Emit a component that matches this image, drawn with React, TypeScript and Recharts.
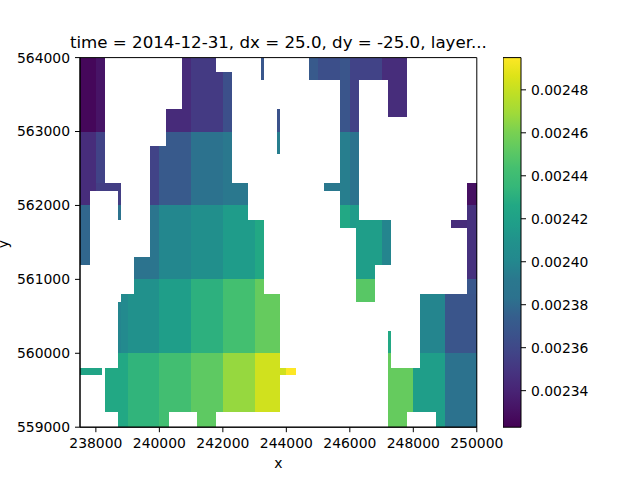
import { ComposedChart, ReferenceArea, ReferenceLine, XAxis, YAxis } from "recharts";

const FONT = "'DejaVu Sans', sans-serif";
const TITLE = "time = 2014-12-31, dx = 25.0, dy = -25.0, layer...";

const xTicks = [238000, 240000, 242000, 244000, 246000, 248000, 250000];
const yTicks = [559000, 560000, 561000, 562000, 563000, 564000];
const colorTicks = [0.00234, 0.00236, 0.00238, 0.0024, 0.00242, 0.00244, 0.00246, 0.00248];

const XMIN = 237500;
const XMAX = 250000;
const YMIN = 559000;
const YMAX = 564000;
const VMIN = 0.002323;
const VMAX = 0.002495;

// viridis, evenly spaced stops
const viridis = [
  "#440154", "#471365", "#482475", "#463480", "#414487", "#3b528b", "#355f8d", "#2c728e", "#2a788e",
  "#23888e", "#21918c", "#1f9e89", "#22a884", "#35b779", "#44bf70", "#5ec962", "#7ad151", "#a0da39",
  "#bddf26", "#dde318", "#fde725",
];

// each cell: x0, x1, y0, y1, value
type CellRow = [number, number, number, number, number];

const band563: CellRow[] = [
  [237500, 238000, 563000, 564000, 0.002326],
  [238000, 238300, 563000, 564000, 0.002332],
  [240200, 240700, 563000, 563300, 0.002344],
  [240700, 241000, 563000, 564000, 0.002344],
  [241000, 241800, 563000, 564000, 0.002352],
  [241800, 242000, 563000, 563800, 0.002352],
  [242000, 242300, 563000, 563800, 0.002364],
  [243200, 243300, 563700, 564000, 0.002369],
  [243700, 243800, 563000, 563300, 0.002366],
  [244700, 245000, 563700, 564000, 0.002371],
  [245000, 245700, 563700, 564000, 0.002364],
  [245700, 246000, 563000, 564000, 0.002368],
  [246000, 246300, 563000, 563700, 0.002356],
  [246000, 247000, 563700, 564000, 0.002357],
  [247000, 247200, 563700, 564000, 0.002345],
  [247200, 247800, 563200, 564000, 0.002345],
];

const band562: CellRow[] = [
  [237500, 237800, 562000, 563000, 0.002345],
  [237800, 238000, 562200, 563000, 0.002345],
  [238000, 238300, 562300, 563000, 0.002357],
  [238000, 238800, 562200, 562300, 0.002354],
  [238700, 238800, 562000, 562200, 0.002354],
  [239700, 240000, 562000, 562800, 0.002357],
  [240000, 240200, 562000, 562800, 0.002371],
  [240200, 241000, 562000, 563000, 0.002371],
  [241000, 242000, 562000, 563000, 0.002383],
  [242000, 242300, 562000, 563000, 0.002392],
  [242300, 242800, 562000, 562300, 0.002392],
  [243700, 243800, 562700, 563000, 0.002395],
  [245200, 245700, 562200, 562300, 0.002392],
  [245700, 246000, 562000, 563000, 0.002395],
  [246000, 246300, 562000, 563000, 0.002383],
  [249700, 250000, 562000, 562300, 0.00233],
];

const band561: CellRow[] = [
  [237500, 237800, 561200, 562000, 0.002378],
  [238700, 238800, 561800, 562000, 0.002385],
  [239200, 239700, 561000, 561300, 0.002385],
  [239700, 240000, 561000, 562000, 0.002387],
  [240000, 241000, 561000, 562000, 0.0024],
  [241000, 242000, 561000, 562000, 0.002407],
  [242000, 242800, 561800, 562000, 0.002416],
  [242000, 243000, 561000, 561800, 0.002416],
  [243000, 243300, 561000, 561800, 0.002426],
  [245700, 246000, 561700, 562000, 0.002426],
  [246000, 246300, 561800, 562000, 0.002416],
  [246000, 246200, 561700, 561800, 0.002416],
  [246200, 247000, 561200, 561800, 0.002418],
  [246200, 246800, 561000, 561200, 0.002418],
  [247000, 247300, 561200, 561800, 0.002399],
  [249200, 249700, 561700, 561800, 0.002345],
  [249700, 250000, 561000, 562000, 0.002347],
];

const band560: CellRow[] = [
  [238700, 238800, 560000, 560700, 0.002399],
  [238800, 239000, 560000, 560800, 0.002402],
  [239000, 239200, 560000, 560800, 0.002409],
  [239200, 240000, 560000, 561000, 0.002409],
  [240000, 241000, 560000, 561000, 0.002418],
  [241000, 242000, 560000, 561000, 0.002431],
  [242000, 243000, 560000, 561000, 0.002443],
  [243000, 243300, 560000, 561000, 0.002454],
  [243300, 243800, 560000, 560800, 0.002454],
  [246200, 246800, 560700, 561000, 0.00245],
  [247200, 247300, 560000, 560300, 0.002426],
  [248200, 249000, 560000, 560800, 0.002399],
  [249000, 250000, 560000, 560800, 0.002368],
  [249700, 250000, 560800, 561000, 0.002369],
];

const band559: CellRow[] = [
  [237500, 238200, 559700, 559800, 0.002423],
  [238300, 238700, 559200, 559800, 0.002426],
  [238700, 239000, 559000, 560000, 0.002426],
  [239000, 240000, 559000, 560000, 0.002433],
  [240000, 240300, 559000, 559200, 0.002442],
  [240000, 241000, 559200, 560000, 0.002442],
  [241000, 242000, 559200, 560000, 0.002452],
  [241200, 241800, 559000, 559200, 0.002452],
  [242000, 243000, 559200, 560000, 0.002467],
  [243000, 243800, 559200, 560000, 0.002483],
  [243800, 244000, 559700, 559800, 0.002483],
  [244000, 244300, 559700, 559800, 0.002495],
  [247200, 247300, 559800, 560000, 0.002454],
  [247200, 247800, 559000, 559800, 0.002454],
  [247800, 248000, 559200, 559800, 0.002454],
  [248000, 249000, 559200, 559800, 0.002418],
  [248200, 249000, 559800, 560000, 0.002418],
  [248700, 249000, 559000, 559200, 0.002418],
  [249000, 250000, 559000, 560000, 0.002383],
];

const cells = [...band563, ...band562, ...band561, ...band560, ...band559];

const hexToRgb = (hex: string) => [1, 3, 5].map((i) => parseInt(hex.slice(i, i + 2), 16));

const colorFor = (value: number) => {
  const t = Math.min(1, Math.max(0, (value - VMIN) / (VMAX - VMIN))) * (viridis.length - 1);
  const i = Math.min(viridis.length - 2, Math.floor(t));
  const a = hexToRgb(viridis[i]);
  const b = hexToRgb(viridis[i + 1]);
  const mix = a.map((c, k) => Math.round(c + (b[k] - c) * (t - i)));
  return `rgb(${mix.join(",")})`;
};

const tickStyle = { fontFamily: FONT, fontSize: 13.9, fill: "#000" };
const labelStyle = { fontFamily: FONT, fontSize: 13.9, fill: "#000" };
const tickLine = { stroke: "#000", strokeWidth: 1 };

const App = () => {
  return (
    <div style={{ position: "absolute", left: 0, top: 0, width: 640, height: 480, background: "#fff" }}>
      <div style={{ position: "absolute", left: 0, top: 0 }}>
        <ComposedChart
          width={640}
          height={480}
          margin={{ top: 57.6, right: 163.2, bottom: 0, left: 0 }}
        >
          <XAxis
            type="number"
            dataKey="x"
            domain={[XMIN, XMAX]}
            ticks={xTicks}
            height={52.8}
            allowDataOverflow
            axisLine={{ stroke: "#000", strokeWidth: 1 }}
            tickLine={tickLine}
            tickSize={5}
            tickMargin={6}
            tick={tickStyle}
            interval={0}
            label={{ value: "x", position: "insideBottom", offset: 12, style: labelStyle }}
          />
          <YAxis
            type="number"
            dataKey="y"
            domain={[YMIN, YMAX]}
            ticks={yTicks}
            width={80}
            allowDataOverflow
            axisLine={{ stroke: "#000", strokeWidth: 1 }}
            tickLine={tickLine}
            tickSize={5}
            tickMargin={5}
            tick={tickStyle}
            interval={0}
          />
          {cells.map(([x0, x1, y0, y1, value], i) => (
            <ReferenceArea
              key={`cell-${i}`}
              x1={x0}
              x2={x1}
              y1={y0}
              y2={y1}
              fill={colorFor(value)}
              fillOpacity={1}
              stroke="none"
              shapeRendering="crispEdges"
            />
          ))}
          <ReferenceLine x={XMIN} stroke="#000" strokeWidth={1} />
          <ReferenceLine x={XMAX} stroke="#000" strokeWidth={1} />
          <ReferenceLine y={YMIN} stroke="#000" strokeWidth={1} />
          <ReferenceLine y={YMAX} stroke="#000" strokeWidth={1} />
          <text x={278.4} y={48} textAnchor="middle" fontFamily={FONT} fontSize={16.67} fill="#000">
            {TITLE}
          </text>
          <text
            x={8}
            y={244}
            textAnchor="middle"
            transform="rotate(-90 8 244)"
            fontFamily={FONT}
            fontSize={13.9}
            fill="#000"
          >
            y
          </text>
        </ComposedChart>
      </div>
      <div style={{ position: "absolute", left: 502.6, top: 0 }}>
        <ComposedChart width={137} height={480} margin={{ top: 57.6, right: 0, bottom: 52.8, left: 0 }}>
          <defs>
            <linearGradient id="viridisBar" x1="0" y1="1" x2="0" y2="0">
              {viridis.map((c, i) => (
                <stop key={c} offset={i / (viridis.length - 1)} stopColor={c} />
              ))}
            </linearGradient>
          </defs>
          <XAxis type="number" dataKey="x" domain={[0, 1]} allowDataOverflow hide />
          <YAxis
            type="number"
            dataKey="v"
            orientation="right"
            domain={[VMIN, VMAX]}
            ticks={colorTicks}
            width={119}
            allowDataOverflow
            axisLine={false}
            tickLine={tickLine}
            tickSize={5}
            tickMargin={5}
            tick={tickStyle}
            interval={0}
            tickFormatter={(v: number) => v.toFixed(5)}
          />
          <ReferenceArea
            x1={0}
            x2={1}
            y1={VMIN}
            y2={VMAX}
            fill="url(#viridisBar)"
            fillOpacity={1}
            stroke="#000"
            strokeWidth={1}
          />
        </ComposedChart>
      </div>
    </div>
  );
};

export default App;
